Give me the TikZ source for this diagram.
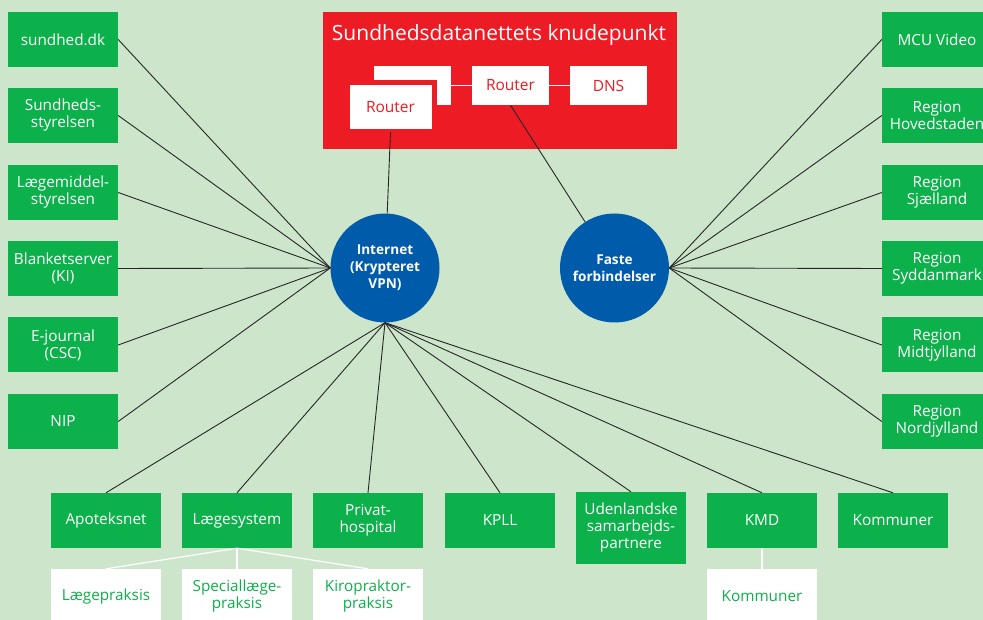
\documentclass[tikz,border=0pt]{standalone}
\usepackage{fontspec}
\setmainfont{Open Sans}

\definecolor{bggreen}{HTML}{CDE6CB}
\definecolor{boxgreen}{HTML}{0DB14B}
\definecolor{knred}{HTML}{ED1C24}
\definecolor{hubblue}{HTML}{005BAA}

\tikzset{
  gbox/.style={fill=boxgreen, text=white, minimum width=110pt, minimum height=55pt,
    inner sep=0pt, align=center, font=\fontsize{15.3}{17}\selectfont},
  wbox/.style={gbox, fill=white, text=boxgreen},
  rbox/.style={fill=white, text=knred, minimum width=77pt, minimum height=39pt,
    inner sep=0pt, font=\fontsize{15.5}{17}\selectfont},
  hub/.style={circle, fill=hubblue, text=white, minimum size=109pt, inner sep=0pt,
    align=center, font=\bfseries\fontsize{13.6}{17}\selectfont},
  link/.style={draw=black!85, line width=0.9pt},
  wlink/.style={draw=white, line width=1.2pt},
}

\begin{document}
\begin{tikzpicture}[x=1pt, y=-1pt]
  \fill[bggreen] (0,0) rectangle (983,620);
  \useasboundingbox (0,0) rectangle (983,620);

  % knudepunkt
  \fill[knred] (323,12) rectangle (677,149);
  \node[text=white, font=\fontsize{21}{24}\selectfont] (title) at (499,35) {Sundhedsdatanettets knudepunkt};
  \node[rbox] (rback) at (412.5,85.5) {};
  \node[rbox, minimum width=87pt, minimum height=49pt, draw=knred, line width=5pt, outer sep=-2.5pt] (rfront) at (390.5,107.5) {};
  \node[rbox] at (rfront) {Router};
  \node[rbox] (rmid) at (510.5,85.5) {Router};
  \node[rbox] (dns) at (608.5,85.5) {DNS};
  \draw[wlink] (rback.east) -- (rmid.west);
  \draw[wlink] (rmid.east) -- (dns.west);

  % hubs
  \node[hub] (inet) at (385,268) {Internet\\(Krypteret\\VPN)};
  \node[hub] (faste) at (614.5,268) {Faste\\forbindelser};
  \draw[link] ([yshift=-2.5pt]rfront.south) -- (inet);
  \draw[link] (rmid.south) -- (faste);

  % venstre
  \node[gbox] (sd) at (63,39.5) {sundhed.dk};
  \node[gbox] (sst) at (63,115.5) {Sundheds-\\styrelsen};
  \node[gbox] (lms) at (63,192.5) {Lægemiddel-\\styrelsen};
  \node[gbox] (blank) at (63,268.5) {Blanketserver\\(KI)};
  \node[gbox] (ejour) at (63,345) {E-journal\\(CSC)};
  \node[gbox] (nip) at (63,421.5) {NIP};
  \foreach \n in {sd,sst,lms,blank,ejour,nip}
    \draw[link] (inet.west) -- (\n.east);

  % hoejre
  \node[gbox] (mcu) at (937,39.5) {MCU Video};
  \node[gbox] (rh) at (937,115.5) {Region\\Hovedstaden};
  \node[gbox] (rsj) at (937,192.5) {Region\\Sjælland};
  \node[gbox] (rsd) at (937,268.5) {Region\\Syddanmark};
  \node[gbox] (rmj) at (937,345) {Region\\Midtjylland};
  \node[gbox] (rnj) at (937,421.5) {Region\\Nordjylland};
  \foreach \n in {mcu,rh,rsj,rsd,rmj,rnj}
    \draw[link] (faste.east) -- (\n.west);

  % bund
  \node[gbox] (apo) at (106,520.5) {Apoteksnet};
  \node[gbox] (laege) at (237,520.5) {Lægesystem};
  \node[gbox] (priv) at (368,520.5) {Privat-\\hospital};
  \node[gbox] (kpll) at (500,520.5) {KPLL};
  \node[gbox, minimum height=72pt] (udl) at (631,528) {Udenlandske\\samarbejds-\\partnere};
  \node[gbox] (kmd) at (762,520.5) {KMD};
  \node[gbox] (komm) at (893,520.5) {Kommuner};
  \foreach \n in {apo,laege,priv,kpll,udl,kmd,komm}
    \draw[link] (inet.south) -- (\n.north);

  % underniveau
  \node[wbox] (lp) at (106,596.5) {Lægepraksis};
  \node[wbox] (slp) at (237,596.5) {Speciallæge-\\praksis};
  \node[wbox] (kirp) at (368,596.5) {Kiropraktor-\\praksis};
  \node[wbox] (kommw) at (762,596.5) {Kommuner};
  \foreach \n in {lp,slp,kirp}
    \draw[wlink] (laege.south) -- (\n.north);
  \draw[wlink] (kmd.south) -- (kommw.north);
\end{tikzpicture}
\end{document}
